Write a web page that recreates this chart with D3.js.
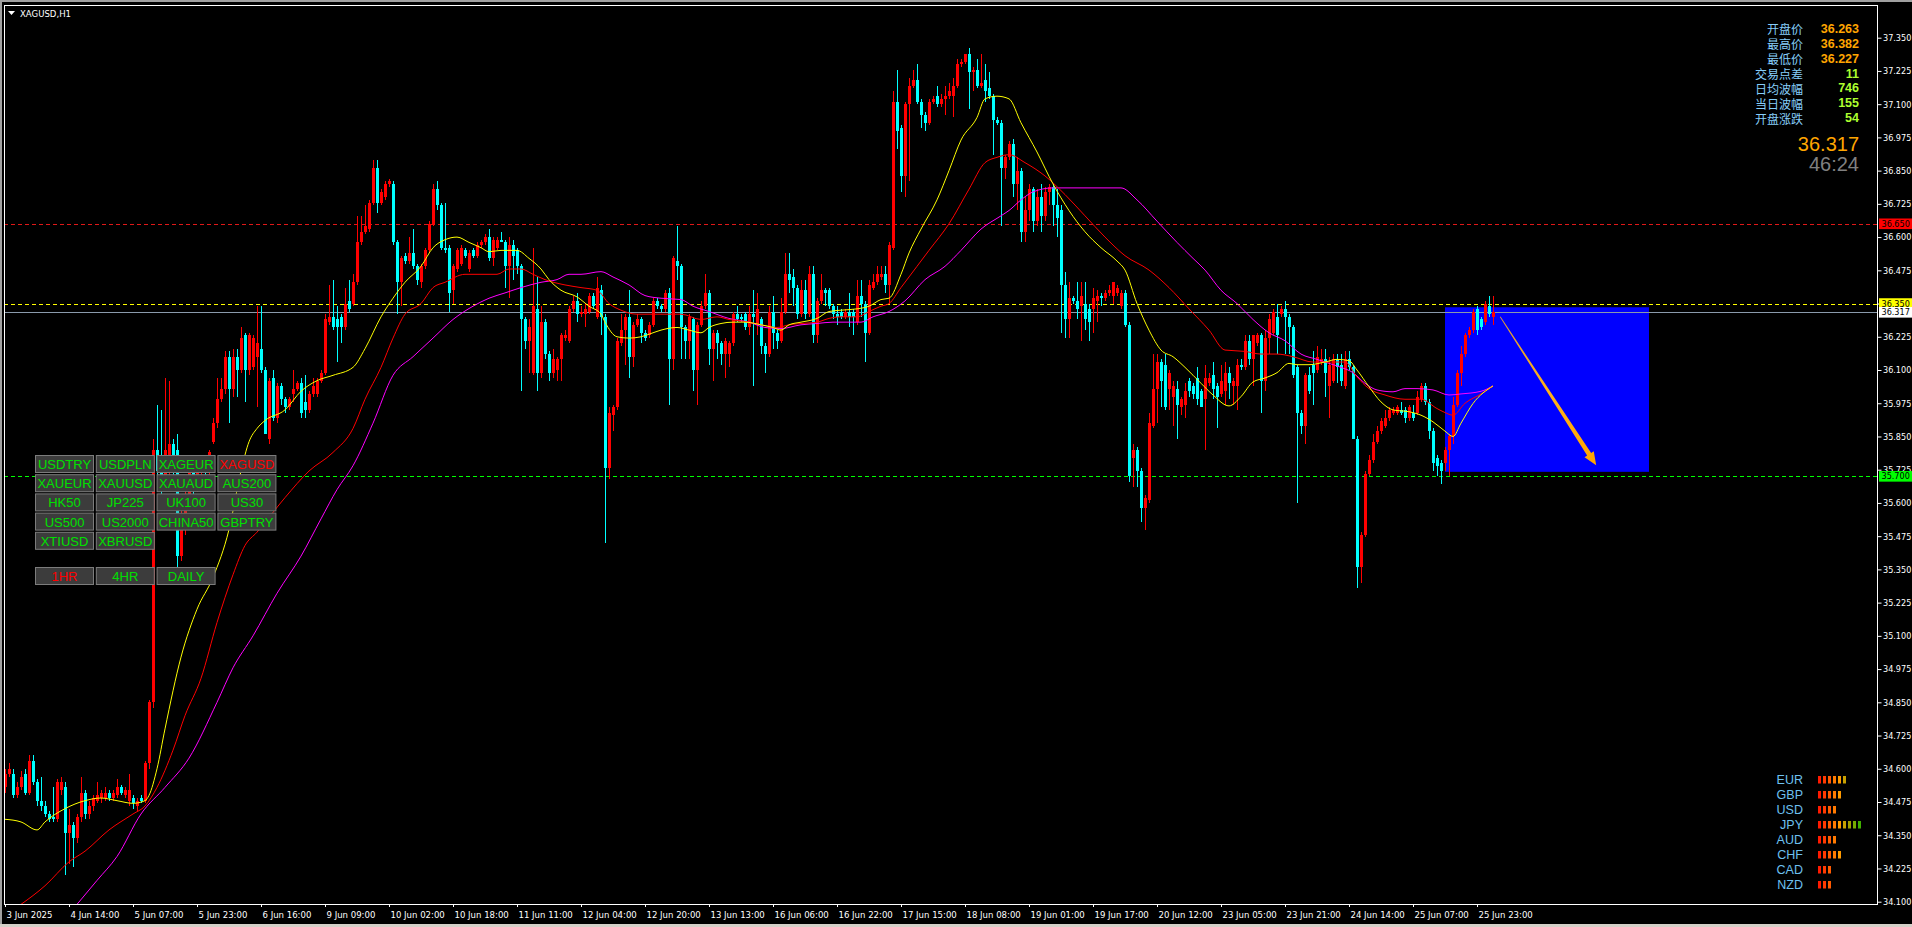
<!DOCTYPE html>
<html><head><meta charset="utf-8">
<script src="https://cdn.jsdelivr.net/npm/d3@7"></script>
<style>body{margin:0;background:#000;overflow:hidden}svg{display:block}</style>
</head><body>
<svg id="c" width="1912" height="927"></svg>
<script>
// ---------- DATA ----------
// H1 candles, one row per bar: [open, high, low, close]
const ohlc = [
[34.53,34.60,34.51,34.58],[34.58,34.62,34.57,34.60],[34.58,34.60,34.49,34.50],[34.50,34.55,34.49,34.53],[34.53,34.59,34.52,34.57],
[34.58,34.60,34.50,34.51],[34.51,34.65,34.50,34.63],[34.63,34.65,34.54,34.55],[34.55,34.56,34.46,34.48],[34.48,34.57,34.44,34.46],
[34.46,34.48,34.42,34.43],[34.43,34.44,34.40,34.41],[34.42,34.53,34.40,34.41],[34.41,34.56,34.40,34.55],[34.52,34.57,34.50,34.55],
[34.53,34.55,34.20,34.36],[34.36,34.45,34.24,34.39],[34.39,34.40,34.23,34.34],[34.34,34.43,34.32,34.42],[34.42,34.57,34.40,34.51],
[34.51,34.52,34.41,34.43],[34.43,34.48,34.41,34.46],[34.46,34.50,34.44,34.49],[34.48,34.55,34.47,34.50],[34.49,34.52,34.47,34.51],
[34.49,34.53,34.48,34.51],[34.51,34.52,34.48,34.49],[34.49,34.52,34.48,34.51],[34.50,34.56,34.49,34.53],[34.53,34.54,34.50,34.51],
[34.50,34.53,34.49,34.52],[34.48,34.58,34.46,34.52],[34.49,34.50,34.45,34.47],[34.46,34.49,34.44,34.48],[34.49,34.50,34.47,34.48],
[34.48,34.63,34.47,34.62],[34.62,34.86,34.60,34.85],[34.85,35.84,34.83,35.80],[35.80,35.97,35.70,35.72],[35.72,35.95,35.62,35.68],
[35.68,36.07,35.66,35.80],[35.78,36.06,35.70,35.82],[35.82,35.84,35.70,35.78],[35.80,35.86,35.36,35.40],[35.40,35.60,35.38,35.50],
[35.50,35.66,35.48,35.62],[35.62,35.76,35.58,35.72],[35.72,35.77,35.62,35.66],[35.66,35.76,35.64,35.74],[35.74,35.77,35.70,35.75],
[35.75,35.77,35.68,35.72],[35.72,35.80,35.70,35.79],[35.83,35.92,35.82,35.90],[35.90,36.07,35.88,35.99],[35.99,36.07,35.98,36.03],
[36.03,36.17,36.01,36.15],[36.15,36.17,35.90,36.03],[36.03,36.18,36.00,36.15],[36.15,36.18,36.00,36.10],[36.10,36.26,36.09,36.22],
[36.23,36.24,35.98,36.10],[36.10,36.24,36.08,36.23],[36.11,36.23,36.10,36.22],[36.15,36.34,35.96,36.20],[36.18,36.34,36.09,36.10],
[36.10,36.11,35.86,35.86],[35.84,36.07,35.82,36.06],[36.07,36.10,35.91,35.92],[35.92,36.05,35.90,36.04],[36.04,36.05,35.97,35.99],
[35.99,36.00,35.94,35.96],[35.96,36.00,35.95,35.99],[36.01,36.10,35.98,36.03],[36.03,36.06,36.02,36.05],[36.05,36.07,35.92,35.94],
[35.98,36.08,35.92,35.95],[35.95,36.02,35.94,36.01],[36.01,36.07,36.00,36.04],[36.01,36.07,36.00,36.06],[36.06,36.10,36.05,36.09],
[36.09,36.31,36.08,36.29],[36.28,36.42,36.27,36.30],[36.30,36.44,36.25,36.26],[36.29,36.34,36.13,36.26],[36.30,36.31,36.20,36.26],
[36.26,36.41,36.25,36.35],[36.36,36.44,36.32,36.33],[36.35,36.46,36.34,36.43],[36.43,36.68,36.42,36.58],[36.58,36.68,36.57,36.62],
[36.62,36.72,36.61,36.64],[36.63,36.74,36.62,36.73],[36.73,36.89,36.72,36.86],[36.86,36.89,36.69,36.73],[36.73,36.78,36.72,36.77],
[36.75,36.81,36.74,36.80],[36.80,36.82,36.79,36.81],[36.80,36.81,36.57,36.58],[36.58,36.59,36.31,36.43],[36.43,36.53,36.34,36.52],
[36.53,36.54,36.50,36.51],[36.51,36.60,36.50,36.54],[36.54,36.63,36.48,36.49],[36.49,36.50,36.42,36.44],[36.43,36.50,36.41,36.49],
[36.49,36.56,36.48,36.55],[36.55,36.66,36.54,36.65],[36.65,36.80,36.64,36.78],[36.78,36.81,36.70,36.72],[36.72,36.73,36.55,36.56],
[36.56,36.73,36.54,36.55],[36.56,36.57,36.32,36.39],[36.40,36.50,36.35,36.49],[36.48,36.56,36.47,36.55],[36.50,36.57,36.49,36.56],
[36.55,36.56,36.52,36.53],[36.48,36.55,36.47,36.54],[36.55,36.56,36.52,36.53],[36.53,36.58,36.52,36.57],[36.57,36.59,36.56,36.58],
[36.58,36.61,36.57,36.60],[36.60,36.63,36.51,36.52],[36.52,36.60,36.49,36.59],[36.56,36.60,36.55,36.59],[36.59,36.62,36.58,36.58],
[36.58,36.59,36.41,36.49],[36.49,36.60,36.37,36.57],[36.57,36.59,36.44,36.53],[36.55,36.56,36.46,36.49],[36.49,36.50,36.02,36.29],
[36.29,36.30,36.18,36.21],[36.21,36.29,36.09,36.26],[36.09,36.56,36.08,36.34],[36.33,36.45,36.02,36.09],[36.09,36.34,36.07,36.28],
[36.28,36.29,36.14,36.16],[36.16,36.17,36.06,36.09],[36.09,36.18,36.07,36.14],[36.10,36.15,36.06,36.14],[36.14,36.24,36.06,36.23],
[36.22,36.25,36.21,36.23],[36.21,36.34,36.20,36.33],[36.33,36.38,36.32,36.36],[36.36,36.39,36.28,36.31],[36.31,36.34,36.30,36.32],
[36.31,36.35,36.26,36.33],[36.32,36.39,36.31,36.38],[36.38,36.39,36.33,36.34],[36.30,36.45,36.29,36.41],[36.40,36.42,36.23,36.30],
[36.30,36.31,35.45,35.73],[35.73,35.96,35.69,35.94],[35.93,35.97,35.87,35.96],[35.96,36.22,35.95,36.21],[36.20,36.31,36.19,36.25],
[36.25,36.31,36.12,36.30],[36.30,36.40,36.07,36.15],[36.15,36.28,36.11,36.27],[36.27,36.31,36.26,36.29],[36.29,36.30,36.20,36.24],
[36.24,36.25,36.21,36.22],[36.23,36.28,36.22,36.27],[36.27,36.37,36.26,36.36],[36.36,36.37,36.33,36.34],[36.34,36.35,36.32,36.33],
[36.33,36.40,36.32,36.39],[36.39,36.41,35.97,36.14],[36.14,36.53,36.10,36.52],[36.51,36.64,36.44,36.49],[36.49,36.50,36.14,36.26],
[36.26,36.27,36.14,36.21],[36.21,36.31,36.14,36.30],[36.29,36.30,36.02,36.10],[36.10,36.28,35.97,36.27],[36.27,36.36,36.26,36.34],
[36.34,36.46,36.33,36.39],[36.39,36.40,36.12,36.18],[36.18,36.25,36.06,36.24],[36.24,36.25,36.14,36.20],[36.20,36.21,36.12,36.16],
[36.16,36.22,36.07,36.21],[36.16,36.21,36.11,36.20],[36.20,36.32,36.19,36.31],[36.31,36.34,36.28,36.29],[36.30,36.31,36.28,36.29],
[36.31,36.32,36.25,36.26],[36.26,36.34,36.23,36.31],[36.31,36.40,36.04,36.30],[36.27,36.39,36.23,36.33],[36.29,36.30,36.16,36.19],
[36.19,36.20,36.09,36.16],[36.16,36.34,36.15,36.32],[36.32,36.38,36.18,36.24],[36.24,36.25,36.18,36.21],[36.21,36.37,36.20,36.32],
[36.32,36.54,36.31,36.46],[36.46,36.54,36.39,36.44],[36.45,36.48,36.34,36.41],[36.41,36.42,36.29,36.31],[36.31,36.44,36.30,36.40],
[36.40,36.44,36.29,36.31],[36.31,36.49,36.30,36.46],[36.46,36.49,36.20,36.23],[36.23,36.37,36.20,36.36],[36.36,36.46,36.35,36.40],
[36.40,36.41,36.34,36.39],[36.40,36.41,36.33,36.34],[36.34,36.35,36.29,36.31],[36.31,36.34,36.27,36.30],[36.32,36.33,36.29,36.30],
[36.30,36.33,36.29,36.32],[36.32,36.39,36.26,36.30],[36.32,36.33,36.23,36.30],[36.28,36.44,36.27,36.38],[36.38,36.44,36.30,36.35],
[36.35,36.36,36.13,36.24],[36.24,36.44,36.23,36.42],[36.41,36.46,36.40,36.43],[36.43,36.49,36.42,36.46],[36.45,36.49,36.44,36.46],
[36.46,36.49,36.39,36.42],[36.42,36.58,36.35,36.57],[36.56,37.15,36.55,37.11],[37.11,37.23,36.93,37.00],[37.01,37.02,36.77,36.83],
[36.83,37.11,36.75,37.10],[37.10,37.20,36.81,37.17],[37.17,37.23,37.16,37.19],[37.19,37.25,37.10,37.11],[37.11,37.12,37.01,37.06],
[37.06,37.07,37.00,37.03],[37.03,37.12,37.02,37.11],[37.11,37.13,37.10,37.12],[37.13,37.17,37.09,37.10],[37.10,37.14,37.09,37.12],
[37.12,37.17,37.06,37.13],[37.13,37.18,37.12,37.15],[37.13,37.20,37.05,37.17],[37.17,37.27,37.16,37.25],[37.25,37.27,37.24,37.26],
[37.26,37.29,37.25,37.29],[37.29,37.31,37.08,37.22],[37.22,37.24,37.15,37.23],[37.23,37.27,37.16,37.17],[37.17,37.29,37.16,37.18],
[37.19,37.25,37.11,37.15],[37.16,37.22,37.12,37.13],[37.13,37.14,36.91,37.04],[37.04,37.05,37.02,37.03],[37.03,37.04,36.64,36.86],
[36.86,36.91,36.82,36.90],[36.90,36.96,36.89,36.95],[36.95,36.97,36.75,36.80],[36.80,36.90,36.70,36.85],[36.85,36.86,36.58,36.62],
[36.62,36.75,36.58,36.70],[36.70,36.80,36.66,36.78],[36.78,36.79,36.62,36.66],[36.66,36.78,36.64,36.75],[36.75,36.80,36.62,36.68],
[36.68,36.79,36.66,36.77],[36.77,36.80,36.72,36.79],[36.79,36.80,36.64,36.72],[36.72,36.78,36.60,36.67],[36.70,36.72,36.24,36.42],
[36.42,36.47,36.22,36.29],[36.29,36.43,36.22,36.37],[36.37,36.38,36.35,36.36],[36.36,36.43,36.29,36.33],[36.34,36.43,36.21,36.38],
[36.35,36.43,36.25,36.29],[36.33,36.35,36.21,36.28],[36.33,36.41,36.24,36.37],[36.36,36.40,36.28,36.38],[36.38,36.39,36.34,36.37],
[36.37,36.40,36.36,36.39],[36.39,36.42,36.38,36.40],[36.38,36.43,36.35,36.43],[36.39,36.42,36.38,36.41],[36.34,36.40,36.33,36.39],
[36.39,36.40,36.26,36.27],[36.27,36.28,35.68,35.70],[35.77,35.82,35.66,35.80],[35.80,35.81,35.66,35.72],[35.72,35.73,35.53,35.58],
[35.58,35.63,35.50,35.62],[35.61,35.94,35.60,35.90],[35.89,36.16,35.88,36.03],[36.03,36.16,35.90,36.13],[36.13,36.14,35.96,36.06],
[36.12,36.16,35.95,35.96],[36.03,36.10,35.95,36.09],[36.00,36.06,35.89,36.04],[36.03,36.06,35.84,35.97],[35.96,36.00,35.93,35.99],
[35.97,36.05,35.92,36.02],[36.06,36.07,36.00,36.02],[36.04,36.05,35.99,36.01],[36.07,36.11,35.97,35.99],[36.02,36.03,35.96,35.96],
[35.99,36.12,35.80,36.07],[36.05,36.09,36.04,36.07],[36.08,36.13,35.99,36.03],[36.04,36.05,35.88,36.00],[36.01,36.12,36.00,36.06],
[36.02,36.13,35.97,36.09],[36.09,36.11,35.99,36.05],[36.04,36.07,35.97,36.06],[36.04,36.14,35.95,36.12],[36.12,36.14,36.10,36.11],
[36.11,36.23,36.10,36.21],[36.21,36.23,36.12,36.14],[36.14,36.23,36.04,36.23],[36.20,36.24,36.19,36.23],[36.23,36.24,35.94,36.06],
[36.06,36.25,36.02,36.22],[36.22,36.31,36.16,36.29],[36.24,36.33,36.23,36.32],[36.30,36.35,36.16,36.23],[36.31,36.34,36.30,36.33],
[36.33,36.36,36.16,36.30],[36.30,36.31,36.16,36.26],[36.26,36.27,36.07,36.08],[36.11,36.12,35.60,35.94],[35.94,35.95,35.86,35.89],
[35.89,36.09,35.82,36.08],[36.08,36.11,36.01,36.02],[36.12,36.17,35.97,36.09],[36.10,36.19,36.09,36.15],[36.13,36.18,36.12,36.14],
[36.14,36.18,36.00,36.09],[36.04,36.15,35.92,36.12],[36.06,36.16,36.05,36.14],[36.14,36.16,36.05,36.11],[36.12,36.16,36.04,36.06],
[36.04,36.17,36.03,36.14],[36.14,36.17,36.10,36.11],[36.11,36.12,35.84,35.84],[35.84,35.85,35.28,35.36],[35.36,35.49,35.30,35.48],
[35.48,35.72,35.47,35.71],[35.71,35.78,35.70,35.76],[35.76,35.86,35.75,35.83],[35.83,35.89,35.82,35.87],[35.87,35.92,35.86,35.91],
[35.89,35.95,35.88,35.92],[35.92,35.96,35.91,35.95],[35.94,35.96,35.93,35.95],[35.94,35.97,35.93,35.96],[35.95,35.98,35.93,35.94],
[35.95,35.96,35.90,35.92],[35.92,35.97,35.91,35.96],[35.94,35.97,35.91,35.92],[35.94,36.02,35.93,36.00],[35.99,36.05,35.98,36.04],
[36.04,36.05,35.97,35.98],[35.98,35.99,35.84,35.87],[35.87,35.88,35.72,35.75],[35.77,35.78,35.70,35.74],[35.75,35.76,35.67,35.72],
[35.75,35.81,35.72,35.80],[35.80,35.86,35.70,35.85],[35.85,36.00,35.82,35.97],[35.97,36.10,35.96,36.09],[36.09,36.19,36.04,36.16],
[36.16,36.24,36.15,36.23],[36.23,36.26,36.22,36.25],[36.25,36.33,36.24,36.32],[36.33,36.34,36.23,36.25],[36.29,36.30,36.25,36.26],
[36.28,36.36,36.27,36.35],[36.34,36.38,36.30,36.31],[36.30,36.38,36.27,36.317]
];

// moving averages: [bar index, price]
const maYellow = [[0,34.41],[4,34.40],[8,34.37],[10,34.40],[15,34.45],[20,34.48],[24,34.49],[28,34.48],[32,34.47],[35,34.48],[36,34.50],[38,34.60],[40,34.75],[44,35.02],[48,35.20],[52,35.32],[56,35.50],[59,35.72],[61,35.83],[63,35.88],[65,35.91],[70,35.95],[74,36.02],[78,36.06],[82,36.08],[87,36.11],[90,36.18],[94,36.30],[97,36.37],[100,36.43],[104,36.49],[107,36.56],[110,36.59],[113,36.60],[116,36.58],[119,36.56],[121,36.545],[124,36.55],[128,36.55],[131,36.52],[134,36.48],[136,36.44],[139,36.40],[143,36.375],[146,36.34],[149,36.31],[150,36.28],[153,36.225],[156,36.22],[159,36.225],[162,36.24],[164,36.25],[168,36.26],[171,36.25],[174,36.24],[176,36.26],[179,36.275],[182,36.28],[185,36.28],[189,36.27],[192,36.26],[194,36.25],[196,36.27],[199,36.28],[203,36.294],[206,36.32],[209,36.325],[213,36.33],[216,36.34],[219,36.365],[221,36.37],[224,36.46],[226,36.54],[229,36.63],[233,36.74],[236,36.85],[239,36.965],[243,37.05],[245,37.12],[248,37.13],[251,37.12],[254,37.03],[258,36.92],[262,36.80],[266,36.70],[270,36.62],[274,36.56],[278,36.51],[280,36.476],[283,36.35],[286,36.25],[289,36.175],[292,36.15],[295,36.11],[299,36.05],[302,36.006],[306,35.965],[309,36.0],[312,36.055],[315,36.07],[318,36.09],[321,36.125],[323,36.12],[326,36.12],[330,36.13],[333,36.14],[336,36.135],[338,36.10],[341,36.037],[344,35.98],[347,35.95],[351,35.943],[354,35.93],[357,35.905],[360,35.87],[362,35.85],[364,35.90],[367,35.974],[372,36.04]];
const maRed = [[4,34.09],[10,34.16],[16,34.25],[20,34.29],[26,34.37],[32,34.43],[35,34.46],[38,34.53],[42,34.67],[45,34.80],[49,34.94],[53,35.15],[57,35.33],[60,35.44],[63,35.49],[70,35.62],[76,35.72],[82,35.79],[87,35.88],[90,35.99],[94,36.11],[97,36.22],[100,36.31],[104,36.35],[107,36.41],[110,36.43],[115,36.46],[120,36.46],[123,36.46],[126,36.48],[129,36.48],[132,36.46],[135,36.44],[140,36.42],[144,36.41],[148,36.40],[151,36.35],[154,36.325],[158,36.31],[162,36.31],[166,36.31],[169,36.31],[174,36.29],[178,36.30],[181,36.29],[186,36.28],[189,36.27],[193,36.26],[196,36.27],[199,36.275],[203,36.28],[206,36.294],[209,36.30],[213,36.30],[216,36.32],[219,36.34],[221,36.35],[224,36.41],[228,36.49],[231,36.55],[236,36.65],[241,36.78],[245,36.88],[248,36.90],[251,36.91],[255,36.88],[260,36.83],[265,36.76],[270,36.68],[275,36.60],[280,36.53],[286,36.476],[291,36.41],[296,36.33],[301,36.25],[305,36.175],[310,36.17],[314,36.16],[318,36.16],[322,36.15],[327,36.13],[331,36.13],[335,36.13],[338,36.074],[341,36.03],[345,36.006],[350,35.99],[354,35.99],[358,35.955],[360,35.94],[362,35.93],[365,35.975],[369,36.01],[372,36.04]];
const maMagenta = [[18,34.09],[23,34.18],[28,34.27],[34,34.43],[40,34.53],[46,34.64],[53,34.85],[57,34.98],[62,35.10],[68,35.26],[74,35.40],[79,35.54],[83,35.65],[87,35.74],[92,35.90],[97,36.08],[102,36.15],[107,36.22],[112,36.29],[117,36.34],[121,36.37],[125,36.39],[129,36.41],[134,36.43],[138,36.44],[141,36.46],[144,36.46],[149,36.47],[152,36.45],[156,36.42],[160,36.38],[164,36.37],[169,36.365],[172,36.34],[176,36.32],[181,36.294],[186,36.28],[190,36.26],[194,36.256],[199,36.27],[203,36.275],[207,36.28],[211,36.28],[214,36.28],[217,36.30],[221,36.32],[225,36.36],[230,36.44],[235,36.49],[239,36.55],[244,36.63],[249,36.68],[251,36.70],[254,36.74],[257,36.77],[262,36.785],[270,36.785],[279,36.785],[283,36.74],[288,36.66],[293,36.58],[297,36.52],[300,36.476],[304,36.40],[308,36.35],[312,36.29],[316,36.24],[320,36.21],[324,36.16],[328,36.14],[331,36.125],[334,36.11],[337,36.09],[340,36.05],[343,36.025],[347,36.018],[350,36.03],[353,36.03],[357,36.025],[361,36.006],[364,36.01],[369,36.02],[372,36.04]];

const timeLabels = ["3 Jun 2025","4 Jun 14:00","5 Jun 07:00","5 Jun 23:00","6 Jun 16:00","9 Jun 09:00","10 Jun 02:00","10 Jun 18:00","11 Jun 11:00","12 Jun 04:00","12 Jun 20:00","13 Jun 13:00","16 Jun 06:00","16 Jun 22:00","17 Jun 15:00","18 Jun 08:00","19 Jun 01:00","19 Jun 17:00","20 Jun 12:00","23 Jun 05:00","23 Jun 21:00","24 Jun 14:00","25 Jun 07:00","25 Jun 23:00"];
const timeLabelBars = [0,16,32,48,64,80,96,112,128,144,160,176,192,208,224,240,256,272,288,304,320,336,352,368];
const priceTicks = [34.100,34.225,34.350,34.475,34.600,34.725,34.850,34.975,35.100,35.225,35.350,35.475,35.600,35.725,35.850,35.975,36.100,36.225,36.350,36.475,36.600,36.725,36.850,36.975,37.100,37.225,37.350];

const levelPrices = [36.650, 36.350, 35.700];   // red, yellow, green dashed levels
const bidPrice = 36.317;
const zoneBars = [360, 411];
const zonePrices = [36.336, 35.717];
const arrowBars = [373.8, 397.8];
const arrowPrices = [36.30, 35.742];

const infoLabels = ["开盘价","最高价","最低价","交易点差","日均波幅","当日波幅","开盘涨跌"];
const infoValues = ["36.263","36.382","36.227","11","746","155","54"];
const bigPrice = "36.317";
const countdown = "46:24";

const currencies = ["EUR","GBP","USD","JPY","AUD","CHF","CAD","NZD"];
const strength = [6,5,4,9,4,5,3,3];

const symbolButtons = [["USDTRY","USDPLN","XAGEUR","XAGUSD"],["XAUEUR","XAUUSD","XAUAUD","AUS200"],["HK50","JP225","UK100","US30"],["US500","US2000","CHINA50","GBPTRY"],["XTIUSD","XBRUSD"]];
const tfButtons = ["1HR","4HR","DAILY"];
const activeSymbol = "XAGUSD", activeTf = "1HR";

// ---------- DRAW ----------
const svg = d3.select("#c");
const W = 1912, H = 927;
const L = 4, T = 5, R = 1877, B = 904;
const x = d3.scaleLinear().domain([0, ohlc.length - 1]).range([5, 1493]);
const y = d3.scaleLinear().domain([34.1, 37.35]).range([901.7, 37.7]);
const axisFont = "'DejaVu Sans Condensed','DejaVu Sans',sans-serif";
const axisSize = "9px";

svg.append("rect").attr("width", W).attr("height", H).attr("fill", "#000");
// window edges
svg.append("rect").attr("x",0).attr("y",0).attr("width",W).attr("height",2).attr("fill","#a0a0a0");
svg.append("rect").attr("x",0).attr("y",0).attr("width",2).attr("height",H).attr("fill","#a0a0a0");
svg.append("rect").attr("x",0).attr("y",924).attr("width",W).attr("height",3).attr("fill","#d4d0c8");

const plot = svg.append("g");
plot.append("defs").append("clipPath").attr("id","pc").append("rect")
  .attr("x",L).attr("y",T).attr("width",R-L).attr("height",B-T);
const g = plot.append("g").attr("clip-path","url(#pc)");

// blue zone
g.append("rect")
  .attr("x", x(zoneBars[0])).attr("width", x(zoneBars[1]) - x(zoneBars[0]))
  .attr("y", y(zonePrices[0])).attr("height", y(zonePrices[1]) - y(zonePrices[0]))
  .attr("fill", "#0000ff");

// level lines
const levelColors = ["#e01818", "#ffff00", "#00ff00"];
levelPrices.forEach((p, i) => {
  const yy = Math.round(y(p)) + 0.5;
  g.append("line").attr("x1", L).attr("x2", R).attr("y1", yy).attr("y2", yy)
    .attr("stroke", levelColors[i]).attr("stroke-width", 1).attr("stroke-dasharray", "4,3");
});
// bid line
{
  const yy = Math.round(y(bidPrice)) + 0.5;
  g.append("line").attr("x1", L).attr("x2", R).attr("y1", yy).attr("y2", yy)
    .attr("stroke", "#8a9aab").attr("stroke-width", 1);
}

// candles
const cg = g.append("g").attr("shape-rendering", "crispEdges");
ohlc.forEach((d, i) => {
  const [o, h, l, c] = d;
  const col = c >= o ? "#ff0000" : "#00ffff";
  const cx = Math.round(x(i));
  cg.append("rect").attr("x", cx).attr("width", 1)
    .attr("y", Math.round(y(h))).attr("height", Math.max(1, Math.round(y(l)) - Math.round(y(h))))
    .attr("fill", col);
  const top = Math.round(y(Math.max(o, c))), bot = Math.round(y(Math.min(o, c)));
  cg.append("rect").attr("x", cx - 1).attr("width", 3)
    .attr("y", top).attr("height", Math.max(1, bot - top)).attr("fill", col);
});

// moving averages
const line = d3.line().x(d => x(d[0])).y(d => y(d[1])).curve(d3.curveMonotoneX);
[[maMagenta, "#ff00ff"], [maRed, "#ff0000"], [maYellow, "#ffff00"]].forEach(([data, col]) => {
  g.append("path").attr("d", line(data)).attr("fill", "none").attr("stroke", col).attr("stroke-width", 1);
});

// arrow
{
  const x0 = x(arrowBars[0]), y0 = y(arrowPrices[0]), x1 = x(arrowBars[1]), y1 = y(arrowPrices[1]);
  const dx = x1 - x0, dy = y1 - y0, len = Math.hypot(dx, dy);
  const ux = dx / len, uy = dy / len, nx = -uy, ny = ux;
  const headLen = 13, headW = 5.5, w0 = 0.4, w1 = 2.4;
  const bx = x1 - ux * headLen, by = y1 - uy * headLen;
  const grad = plot.select("defs").append("linearGradient").attr("id", "ag")
    .attr("gradientUnits", "userSpaceOnUse").attr("x1", x0).attr("y1", y0).attr("x2", x1).attr("y2", y1);
  grad.append("stop").attr("offset", "0").attr("stop-color", "#d99a3a");
  grad.append("stop").attr("offset", "0.5").attr("stop-color", "#ffb21a");
  grad.append("stop").attr("offset", "1").attr("stop-color", "#ffa500");
  const pts = [
    [x0 + nx * w0, y0 + ny * w0], [bx + nx * w1, by + ny * w1], [bx + nx * headW, by + ny * headW],
    [x1, y1], [bx - nx * headW, by - ny * headW], [bx - nx * w1, by - ny * w1], [x0 - nx * w0, y0 - ny * w0]
  ];
  g.append("polygon").attr("points", pts.map(p => p.join(",")).join(" ")).attr("fill", "url(#ag)");
}

// frame
svg.append("rect").attr("x", L + 0.5).attr("y", T + 0.5).attr("width", R - L).attr("height", B - T)
  .attr("fill", "none").attr("stroke", "#ffffff").attr("stroke-width", 1).attr("shape-rendering","crispEdges");

// right price axis
const ya = svg.append("g").attr("transform", `translate(${R + 0.5},0)`)
  .call(d3.axisRight(y).tickValues(priceTicks).tickFormat(d3.format(".3f")).tickSize(4).tickPadding(1.5));
ya.select(".domain").remove();
ya.selectAll(".tick line").attr("stroke", "#fff");
ya.selectAll(".tick text").attr("fill", "#fff").style("font-family", axisFont).style("font-size", axisSize);

// price labels on axis
const boxCols = ["#ff0000", "#ffff00", "#00ff00"];
function priceBox(p, fill) {
  const yy = y(p);
  svg.append("rect").attr("x", 1879).attr("y", yy - 5.3).attr("width", 33).attr("height", 10.6).attr("fill", fill);
  svg.append("text").attr("x", 1881.5).attr("y", yy).attr("dominant-baseline", "central")
    .attr("fill", "#000").style("font-family", axisFont).style("font-size", axisSize).text(d3.format(".3f")(p));
}
levelPrices.forEach((p, i) => priceBox(p, boxCols[i]));
priceBox(bidPrice, "#ffffff");

// time axis
const ta = svg.append("g");
timeLabels.forEach((t, k) => {
  const xx = Math.round(x(timeLabelBars[k])) + 0.5;
  ta.append("line").attr("x1", xx).attr("x2", xx).attr("y1", B).attr("y2", B + 3).attr("stroke", "#fff");
  ta.append("text").attr("x", xx + 1).attr("y", 914).attr("dominant-baseline", "central")
    .attr("fill", "#fff").style("font-family", axisFont).style("font-size", "9.5px").text(t);
});

// title
svg.append("path").attr("d", "M8,11 L15,11 L11.5,15 Z").attr("fill", "#fff");
svg.append("text").attr("x", 20).attr("y", 13).attr("dominant-baseline", "central").attr("fill", "#fff")
  .style("font-family", axisFont).style("font-size", "9.5px").text("XAGUSD,H1");

// info panel
const cjk = "'Noto Sans CJK SC','Noto Sans',sans-serif";
infoLabels.forEach((t, i) => {
  const yy = 28.8 + i * 14.92;
  svg.append("text").attr("x", 1803).attr("y", yy).attr("text-anchor", "end").attr("dominant-baseline", "central")
    .attr("fill", "#87cefa").style("font-family", cjk).style("font-size", "12px").text(t);
  svg.append("text").attr("x", 1859).attr("y", yy).attr("text-anchor", "end").attr("dominant-baseline", "central")
    .attr("fill", i < 3 ? "#ffa500" : "#adff2f").style("font-family", "'Liberation Sans',Arial,sans-serif")
    .style("font-size", "12.5px").style("font-weight", "bold").text(infoValues[i]);
});
svg.append("text").attr("x", 1859).attr("y", 144).attr("text-anchor", "end").attr("dominant-baseline", "central")
  .attr("fill", "#ffa500").style("font-family", "'Liberation Sans',Arial,sans-serif").style("font-size", "20px").text(bigPrice);
svg.append("text").attr("x", 1859).attr("y", 163.5).attr("text-anchor", "end").attr("dominant-baseline", "central")
  .attr("fill", "#808080").style("font-family", "'Liberation Sans',Arial,sans-serif").style("font-size", "20px").text(countdown);

// currency strength
const stColors = ["#ff1a00","#ff3a00","#ff5a00","#ff7a00","#ff9a00","#c8a000","#a0a000","#78aa00","#40b000","#20c000"];
currencies.forEach((c, i) => {
  const yy = 779.5 + i * 15;
  svg.append("text").attr("x", 1803).attr("y", yy).attr("text-anchor", "end").attr("dominant-baseline", "central")
    .attr("fill", "#6ec0f0").style("font-family", "'Liberation Sans',Arial,sans-serif").style("font-size", "12.5px").text(c);
  for (let k = 0; k < strength[i]; k++) {
    svg.append("rect").attr("x", 1818 + k * 5).attr("y", yy - 3.5).attr("width", 3).attr("height", 7.5).attr("fill", stColors[k]);
  }
});

// buttons
const bf = "'Liberation Sans',Arial,sans-serif";
function button(label, bx, by, active) {
  svg.append("rect").attr("x", bx + 0.5).attr("y", by + 0.5).attr("width", 58).attr("height", 17)
    .attr("fill", "#3c3c3c").attr("stroke", "#7c7c7c").attr("stroke-width", 1);
  svg.append("text").attr("x", bx + 29.5).attr("y", by + 9.5).attr("text-anchor", "middle").attr("dominant-baseline", "central")
    .attr("fill", active ? "#ff0000" : "#00e000").style("font-family", bf).style("font-size", "13px").text(label);
}
symbolButtons.forEach((row, r) => row.forEach((lab, c) => button(lab, 35 + c * 60.8, 455 + r * 19.2, lab === activeSymbol)));
tfButtons.forEach((lab, c) => button(lab, 35 + c * 60.8, 567, lab === activeTf));
</script>
</body></html>
